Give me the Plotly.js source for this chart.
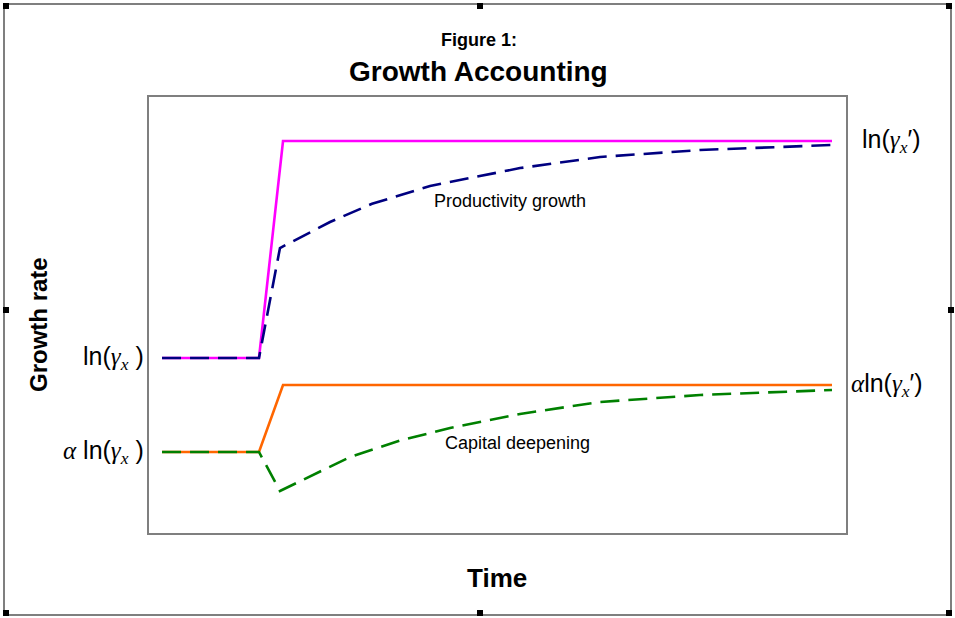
<!DOCTYPE html>
<html><head><meta charset="utf-8">
<script src="https://cdn.plot.ly/plotly-3.0.1.min.js"></script>
<style>body{margin:0;background:#fff}</style>
</head><body><div id="chart" style="width:955px;height:618px"></div>
<script>
// Solid target paths (new steady state reached immediately)
const timeTarget = [1.87, 15.78, 19.23, 97.99];
const productivityTarget = [40.14, 40.14, 89.91, 89.91];
const capitalTarget = [18.58, 18.58, 33.94, 33.94];
// Dashed transition paths
const timeProductivity = [1.87, 15.78, 18.79, 25.97, 32.0, 40.32, 53.23, 64.71, 79.05, 97.99];
const productivityGrowth = [40.14, 40.14, 65.37, 71.33, 75.5, 79.6, 83.7, 86.24, 87.84, 88.99];
const timeCapital = [1.87, 15.78, 18.79, 28.84, 36.0, 43.19, 53.23, 64.71, 79.05, 97.99];
const capitalDeepening = [18.58, 18.58, 9.63, 17.43, 21.2, 24.08, 27.3, 30.05, 31.65, 32.80];

const W = 955, H = 618, L = 149, R = 846, T = 97, B = 533;
const px = x => (x - L) / (R - L);
const py = y => (B - y) / (B - T);
const SANS = 'Liberation Sans, Arial, sans-serif';

const traces = [
  {x: timeTarget, y: productivityTarget, mode: 'lines', line: {color: '#ff00ff', width: 2.6}, hoverinfo: 'skip', name: 'ln(γx′)'},
  {x: timeProductivity, y: productivityGrowth, mode: 'lines', line: {color: '#000080', width: 2.6, dash: '19px,9px'}, hoverinfo: 'skip', name: 'Productivity growth'},
  {x: timeTarget, y: capitalTarget, mode: 'lines', line: {color: '#ff6600', width: 2.6}, hoverinfo: 'skip', name: 'α ln(γx′)'},
  {x: timeCapital, y: capitalDeepening, mode: 'lines', line: {color: '#008000', width: 2.6, dash: '19px,9px'}, hoverinfo: 'skip', name: 'Capital deepening'}
];

const serif = s => '<span style="font-family:\'Liberation Serif\',serif"><i>' + s + '</i></span>';
const gam = serif('γ') + '<sub>' + serif('x') + '</sub>';
const gamP = serif('γ') + '<sub>' + serif('x') + '</sub>' + '′';

const ann = (text, x, y, size, opts) => Object.assign({text, x, y, xref: 'paper', yref: 'paper', showarrow: false,
  xanchor: 'center', yanchor: 'middle',
  font: {family: SANS, size: size, color: '#000'}}, opts || {});

const boxSq = (cx, cy) => ({type: 'rect', xref: 'paper', yref: 'paper', x0: px(cx - 3), x1: px(cx + 3), y0: py(cy + 3), y1: py(cy - 3), fillcolor: '#000', line: {width: 0}});

const layout = {
  width: W, height: H, showlegend: false,
  margin: {l: L, r: W - R, t: T, b: H - B},
  paper_bgcolor: '#fff', plot_bgcolor: '#fff',
  xaxis: {range: [0, 100], showgrid: false, zeroline: false, showticklabels: false, ticks: '', showline: true, mirror: true, linecolor: '#7f7f7f', linewidth: 2},
  yaxis: {range: [0, 100], showgrid: false, zeroline: false, showticklabels: false, ticks: '', showline: true, mirror: true, linecolor: '#7f7f7f', linewidth: 2},
  annotations: [
    ann('<b>Figure 1:</b>', px(479), py(40), 18),
    ann('<b>Growth Accounting</b>', px(478), py(72), 28),
    ann('<b>Time</b>', px(497), py(578), 26),
    ann('<b>Growth rate</b>', px(38), py(325), 24, {textangle: -90}),
    ann('Productivity growth', px(510), py(201), 18),
    ann('Capital deepening', px(517), py(443), 18),
    ann('ln(' + gam + ' )', px(146), productivityTarget[0], 25, {yref: 'y', xanchor: 'right'}),
    ann(serif('α') + ' ln(' + gam + ' )', px(146), capitalTarget[0], 25, {yref: 'y', xanchor: 'right'}),
    ann('ln(' + gamP + ')', px(860), productivityTarget[3], 25, {yref: 'y', xanchor: 'left'}),
    ann(serif('α') + 'ln(' + gamP + ')', px(849), capitalTarget[3], 25, {yref: 'y', xanchor: 'left'})
  ],
  shapes: [
    {type: 'rect', xref: 'paper', yref: 'paper', x0: px(4), x1: px(951), y0: py(615), y1: py(4), line: {color: '#555', width: 1.5}, fillcolor: 'rgba(0,0,0,0)', layer: 'below'},
    boxSq(6, 6), boxSq(480, 6), boxSq(949, 6),
    boxSq(6, 310), boxSq(951, 310),
    boxSq(6, 613), boxSq(480, 613), boxSq(949, 613)
  ]
};

Plotly.newPlot('chart', traces, layout, {staticPlot: true, displayModeBar: false});
</script></body></html>
